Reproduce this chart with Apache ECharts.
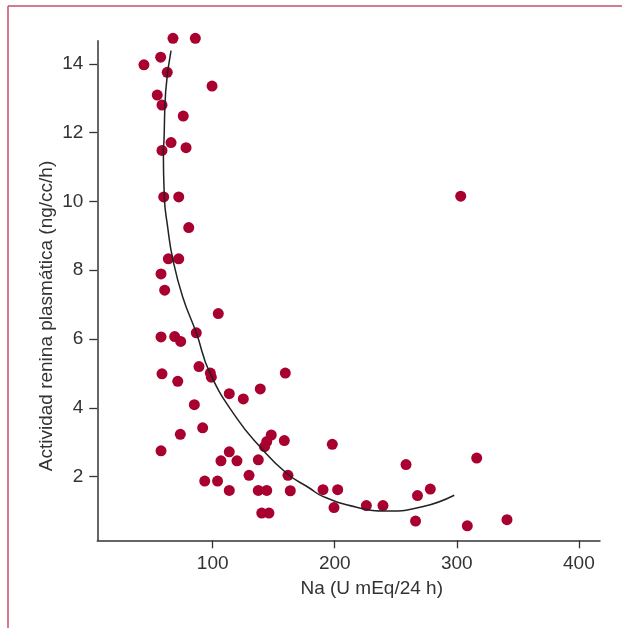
<!DOCTYPE html>
<html>
<head>
<meta charset="utf-8">
<script src="https://cdn.jsdelivr.net/npm/echarts@6/dist/echarts.min.js"></script>
<style>
html,body{margin:0;padding:0;background:#fff;}
#c{width:622px;height:628px;}
</style>
</head>
<body>
<div id="c"></div>
<script>
// Na (U mEq/24 h)
const naValues = [67.5,85.8,57.4,43.7,62.8,99.5,54.6,58.5,75.9,65.9,78.2,58.5,59.9,72.2,80.4,63.7,72.2,57.7,60.7,104.6,
  57.7,68.9,73.8,86.6,88.8,98.1,98.9,58.5,71.4,159.5,113.6,125.1,139.0,85.0,91.8,73.5,57.7,148.0,144.3,142.5,
  158.7,113.6,106.8,119.9,137.4,129.8,161.7,93.5,104.0,113.6,137.4,144.3,163.6,140.2,146.1,198.0,258.4,316.3,190.4,202.4,
  199.4,225.9,239.5,267.8,278.3,266.2,308.6,341.1,303.2];
// Actividad renina plasmática (ng/cc/h)
const reninaValues = [14.74,14.74,14.19,13.97,13.75,13.35,13.09,12.80,12.48,11.71,11.56,11.48,10.13,10.13,9.24,8.33,8.33,7.89,7.42,6.74,
  6.06,6.07,5.93,6.18,5.20,5.01,4.89,4.99,4.77,5.01,4.41,4.26,4.55,4.09,3.42,3.23,2.75,3.21,3.02,2.87,
  3.05,2.72,2.46,2.46,2.49,2.04,2.04,1.87,1.87,1.60,1.60,1.60,1.59,0.94,0.94,2.94,2.35,2.54,1.62,1.62,
  1.10,1.16,1.16,1.45,1.64,0.71,0.57,0.75,10.15];
// fitted curve
const curveX = [65.9,61.5,60.1,59.6,60.4,63.2,67.3,75.4,86.6,97.8,119.7,138.8,160.6,179.2,190.6,218.0,242.6,272.5,297.9];
const curveY = [14.38,13.19,11.74,11.50,10.13,9.24,8.33,7.23,6.18,5.01,3.70,2.87,2.10,1.67,1.42,1.11,1.00,1.13,1.46];
const xTicks = [100,200,300,400];
const yTicks = [2,4,6,8,10,12,14];
const xTitle = 'Na (U mEq/24 h)';
const yTitle = 'Actividad renina plasmática (ng/cc/h)';

const points = naValues.map((v,i)=>[v, reninaValues[i]]);
const curve = curveX.map((v,i)=>[v, curveY[i]]);
const FONT = '"Liberation Sans", Arial, sans-serif';
const chart = echarts.init(document.getElementById('c'));
chart.setOption({
  animation:false,
  backgroundColor:'#fff',
  grid:{left:97.3, top:40.7, right:22, bottom:87.7, containLabel:false},
  xAxis:{
    type:'value', min:5.5, max:417.3,
    splitLine:{show:false},
    axisLine:{show:true, onZero:false, lineStyle:{color:'#333', width:1.5}},
    axisTick:{show:true, length:8, customValues:xTicks, lineStyle:{color:'#333', width:1.3}},
    axisLabel:{customValues:xTicks, color:'#333', fontSize:19, fontFamily:FONT, margin:14}
  },
  yAxis:{
    type:'value', min:0.15, max:14.67,
    splitLine:{show:false},
    axisLine:{show:true, onZero:false, lineStyle:{color:'#333', width:1.5}},
    axisTick:{show:true, length:8, customValues:yTicks, lineStyle:{color:'#333', width:1.3}},
    axisLabel:{customValues:yTicks, color:'#333', fontSize:19, fontFamily:FONT, margin:14}
  },
  series:[
    {type:'line', data:curve, smooth:0.5, showSymbol:false, symbol:'none', clip:false,
     lineStyle:{color:'#222', width:1.5}, z:3},
    {type:'scatter', data:points, symbol:'circle', symbolSize:11, clip:false,
     itemStyle:{color:'#a8002f', opacity:1}, z:2}
  ],
  graphic:[
    {type:'line', shape:{x1:8, y1:6, x2:622, y2:6}, style:{stroke:'#c4506c', lineWidth:1.5}},
    {type:'line', shape:{x1:8, y1:6, x2:8, y2:628}, style:{stroke:'#c4506c', lineWidth:1.5}},
    {type:'text', x:371.7, y:589, style:{text:xTitle, fill:'#333', font:'19px '+FONT, textAlign:'center', textVerticalAlign:'middle'}},
    {type:'text', x:47, y:316, rotation:Math.PI/2, style:{text:yTitle, fill:'#333', font:'19px '+FONT, textAlign:'center', textVerticalAlign:'middle'}}
  ]
});
</script>
</body>
</html>
